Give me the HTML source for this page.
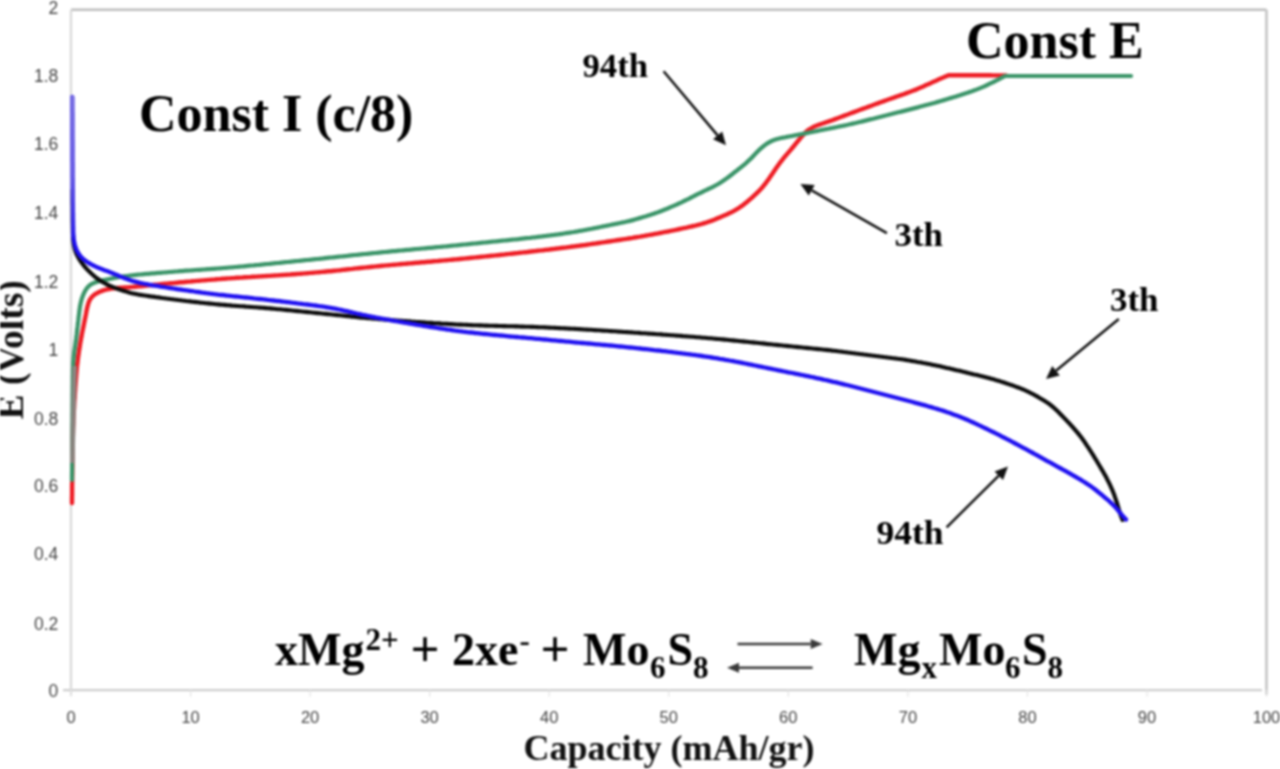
<!DOCTYPE html>
<html><head><meta charset="utf-8"><title>Chart</title>
<style>
html,body{margin:0;padding:0;background:#fff;}
body{width:1280px;height:769px;overflow:hidden;}
svg{display:block;filter:blur(1px);}
.tk{font-family:"Liberation Sans",sans-serif;font-size:16.5px;fill:#444;font-weight:normal;}
.tky{font-family:"Liberation Sans",sans-serif;font-size:17.5px;fill:#444;font-weight:normal;}
.big{font-family:"Liberation Serif",serif;font-weight:bold;font-size:52px;fill:#000;}
.lab{font-family:"Liberation Serif",serif;font-weight:bold;font-size:33.5px;fill:#000;}
.eq{font-family:"Liberation Serif",serif;font-weight:bold;font-size:46px;fill:#000;}
.sup{font-family:"Liberation Serif",serif;font-weight:bold;font-size:31px;fill:#000;}
.ax{font-family:"Liberation Serif",serif;font-weight:bold;font-size:36px;fill:#111;}
</style></head>
<body><svg width="1280" height="769" viewBox="0 0 1280 769">
<line x1="71.0" y1="9.7" x2="1266.5" y2="9.7" stroke="#bdbdbd" stroke-width="2.6"/>
<line x1="1266.5" y1="9.7" x2="1266.5" y2="694.7" stroke="#c4c4c4" stroke-width="2.6"/>
<line x1="63.0" y1="690.2" x2="1262.0" y2="690.2" stroke="#cdcdcd" stroke-width="2.2"/>
<line x1="71.0" y1="9.7" x2="71.0" y2="695.7" stroke="#d8d8d8" stroke-width="2.2"/>
<text x="58.3" y="697.1" text-anchor="end" class="tky">0</text>
<text x="58.3" y="629.6" text-anchor="end" class="tky">0.2</text>
<text x="58.3" y="560.1" text-anchor="end" class="tky">0.4</text>
<text x="58.3" y="492.4" text-anchor="end" class="tky">0.6</text>
<text x="58.3" y="424.9" text-anchor="end" class="tky">0.8</text>
<text x="58.3" y="356.1" text-anchor="end" class="tky">1</text>
<text x="58.3" y="288.0" text-anchor="end" class="tky">1.2</text>
<text x="58.3" y="218.9" text-anchor="end" class="tky">1.4</text>
<text x="58.3" y="150.1" text-anchor="end" class="tky">1.6</text>
<text x="58.3" y="82.1" text-anchor="end" class="tky">1.8</text>
<text x="58.3" y="14.1" text-anchor="end" class="tky">2</text>
<line x1="71.0" y1="689.7" x2="71.0" y2="696.7" stroke="#e4e4e4" stroke-width="1.2"/>
<text x="71.0" y="722.8" text-anchor="middle" class="tk">0</text>
<line x1="190.6" y1="689.7" x2="190.6" y2="696.7" stroke="#e4e4e4" stroke-width="1.2"/>
<text x="190.6" y="722.8" text-anchor="middle" class="tk">10</text>
<line x1="310.1" y1="689.7" x2="310.1" y2="696.7" stroke="#e4e4e4" stroke-width="1.2"/>
<text x="310.1" y="722.8" text-anchor="middle" class="tk">20</text>
<line x1="429.6" y1="689.7" x2="429.6" y2="696.7" stroke="#e4e4e4" stroke-width="1.2"/>
<text x="429.6" y="722.8" text-anchor="middle" class="tk">30</text>
<line x1="549.2" y1="689.7" x2="549.2" y2="696.7" stroke="#e4e4e4" stroke-width="1.2"/>
<text x="549.2" y="722.8" text-anchor="middle" class="tk">40</text>
<line x1="668.8" y1="689.7" x2="668.8" y2="696.7" stroke="#e4e4e4" stroke-width="1.2"/>
<text x="668.8" y="722.8" text-anchor="middle" class="tk">50</text>
<line x1="788.3" y1="689.7" x2="788.3" y2="696.7" stroke="#e4e4e4" stroke-width="1.2"/>
<text x="788.3" y="722.8" text-anchor="middle" class="tk">60</text>
<line x1="907.9" y1="689.7" x2="907.9" y2="696.7" stroke="#e4e4e4" stroke-width="1.2"/>
<text x="907.9" y="722.8" text-anchor="middle" class="tk">70</text>
<line x1="1027.4" y1="689.7" x2="1027.4" y2="696.7" stroke="#e4e4e4" stroke-width="1.2"/>
<text x="1027.4" y="722.8" text-anchor="middle" class="tk">80</text>
<line x1="1147.0" y1="689.7" x2="1147.0" y2="696.7" stroke="#e4e4e4" stroke-width="1.2"/>
<text x="1147.0" y="722.8" text-anchor="middle" class="tk">90</text>
<line x1="1266.5" y1="689.7" x2="1266.5" y2="696.7" stroke="#e4e4e4" stroke-width="1.2"/>
<text x="1266.5" y="722.8" text-anchor="middle" class="tk">100</text>
<path d="M72.0,503.0 L72.0,501.0 L72.0,499.0 L72.0,497.0 L72.1,495.0 L72.1,493.0 L72.1,491.0 L72.1,489.0 L72.1,487.0 L72.1,485.0 L72.2,483.0 L72.2,481.0 L72.2,479.0 L72.2,477.0 L72.3,475.0 L72.3,473.0 L72.3,471.0 L72.3,469.0 L72.4,467.0 L72.4,465.0 L72.4,463.0 L72.4,461.0 L72.5,459.0 L72.5,457.0 L72.5,455.0 L72.6,453.0 L72.6,451.0 L72.6,449.0 L72.6,447.0 L72.7,445.0 L72.7,443.0 L72.8,441.0 L72.8,439.0 L72.8,437.0 L72.9,435.0 L72.9,433.0 L73.0,431.0 L73.0,429.0 L73.1,427.0 L73.2,425.0 L73.3,423.0 L73.3,421.0 L73.4,419.0 L73.5,417.0 L73.6,415.0 L73.7,413.0 L73.8,411.0 L74.0,409.0 L74.1,407.0 L74.2,405.0 L74.3,403.0 L74.4,401.0 L74.6,399.0 L74.7,397.1 L74.8,395.1 L74.9,393.1 L75.1,391.1 L75.2,389.1 L75.3,387.1 L75.5,385.1 L75.6,383.1 L75.8,381.1 L75.9,379.1 L76.1,377.1 L76.2,375.1 L76.4,373.1 L76.6,371.1 L76.7,369.1 L76.9,367.1 L77.1,365.1 L77.4,363.2 L77.6,361.2 L77.8,359.2 L78.1,357.2 L78.4,355.2 L78.7,353.2 L78.9,351.3 L79.3,349.3 L79.6,347.3 L79.9,345.3 L80.2,343.4 L80.6,341.4 L80.9,339.4 L81.3,337.5 L81.7,335.5 L82.0,333.5 L82.4,331.6 L82.8,329.6 L83.2,327.7 L83.6,325.7 L84.0,323.7 L84.4,321.8 L84.8,319.8 L85.2,317.9 L85.6,315.9 L86.0,313.9 L86.3,312.0 L86.7,310.0 L87.1,308.0 L87.6,306.1 L88.1,304.2 L88.7,302.3 L89.5,300.5 L90.4,298.8 L91.6,297.3 L92.9,295.9 L94.4,294.7 L96.1,293.6 L97.8,292.7 L99.6,291.8 L101.5,291.1 L103.3,290.4 L105.2,289.9 L107.2,289.4 L109.1,289.0 L111.1,288.6 L113.1,288.4 L115.1,288.2 L117.0,288.0 L119.0,287.9 L121.0,287.8 L123.0,287.7 L125.0,287.5 L127.0,287.4 L129.0,287.3 L131.0,287.1 L133.0,286.9 L135.0,286.7 L137.0,286.5 L139.0,286.4 L141.0,286.2 L143.0,286.0 L145.0,285.8 L146.9,285.6 L148.9,285.4 L150.9,285.2 L152.9,285.0 L154.9,284.8 L156.9,284.6 L158.9,284.4 L160.9,284.2 L162.9,284.0 L164.9,283.8 L166.8,283.6 L168.8,283.4 L170.8,283.2 L172.8,283.1 L174.8,282.9 L176.8,282.7 L178.8,282.5 L180.8,282.3 L182.8,282.2 L184.8,282.0 L186.8,281.8 L188.8,281.6 L190.7,281.5 L192.7,281.3 L194.7,281.1 L196.7,280.9 L198.7,280.8 L200.7,280.6 L202.7,280.4 L204.7,280.3 L206.7,280.1 L208.7,279.9 L210.7,279.8 L212.7,279.6 L214.7,279.5 L216.7,279.3 L218.7,279.1 L220.6,279.0 L222.6,278.8 L224.6,278.7 L226.6,278.5 L228.6,278.4 L230.6,278.3 L232.6,278.1 L234.6,278.0 L236.6,277.8 L238.6,277.7 L240.6,277.6 L242.6,277.5 L244.6,277.3 L246.6,277.2 L248.6,277.1 L250.6,277.0 L252.6,276.8 L254.6,276.7 L256.6,276.6 L258.6,276.5 L260.6,276.4 L262.6,276.2 L264.6,276.1 L266.5,276.0 L268.5,275.9 L270.5,275.8 L272.5,275.6 L274.5,275.5 L276.5,275.4 L278.5,275.3 L280.5,275.1 L282.5,275.0 L284.5,274.9 L286.5,274.7 L288.5,274.6 L290.5,274.5 L292.5,274.3 L294.5,274.2 L296.5,274.0 L298.5,273.9 L300.5,273.7 L302.5,273.6 L304.5,273.4 L306.5,273.3 L308.4,273.1 L310.4,272.9 L312.4,272.8 L314.4,272.6 L316.4,272.4 L318.4,272.3 L320.4,272.1 L322.4,271.9 L324.4,271.7 L326.4,271.5 L328.4,271.3 L330.4,271.2 L332.4,271.0 L334.3,270.8 L336.3,270.6 L338.3,270.4 L340.3,270.2 L342.3,269.9 L344.3,269.7 L346.3,269.5 L348.3,269.3 L350.3,269.1 L352.2,268.9 L354.2,268.6 L356.2,268.4 L358.2,268.2 L360.2,268.0 L362.2,267.8 L364.2,267.6 L366.2,267.4 L368.2,267.2 L370.1,267.0 L372.1,266.8 L374.1,266.6 L376.1,266.4 L378.1,266.2 L380.1,266.0 L382.1,265.8 L384.1,265.6 L386.1,265.4 L388.1,265.3 L390.1,265.1 L392.0,264.9 L394.0,264.7 L396.0,264.6 L398.0,264.4 L400.0,264.2 L402.0,264.0 L404.0,263.9 L406.0,263.7 L408.0,263.5 L410.0,263.4 L412.0,263.2 L414.0,263.0 L416.0,262.8 L417.9,262.7 L419.9,262.5 L421.9,262.3 L423.9,262.2 L425.9,262.0 L427.9,261.8 L429.9,261.7 L431.9,261.5 L433.9,261.3 L435.9,261.1 L437.9,261.0 L439.9,260.8 L441.9,260.6 L443.9,260.4 L445.8,260.3 L447.8,260.1 L449.8,259.9 L451.8,259.7 L453.8,259.5 L455.8,259.4 L457.8,259.2 L459.8,259.0 L461.8,258.8 L463.8,258.6 L465.8,258.4 L467.7,258.2 L469.7,258.0 L471.7,257.8 L473.7,257.6 L475.7,257.4 L477.7,257.2 L479.7,257.0 L481.7,256.8 L483.7,256.6 L485.7,256.4 L487.6,256.2 L489.6,256.0 L491.6,255.8 L493.6,255.6 L495.6,255.4 L497.6,255.2 L499.6,255.0 L501.6,254.8 L503.6,254.6 L505.5,254.3 L507.5,254.1 L509.5,253.9 L511.5,253.7 L513.5,253.5 L515.5,253.3 L517.5,253.1 L519.5,252.8 L521.5,252.6 L523.4,252.4 L525.4,252.2 L527.4,252.0 L529.4,251.7 L531.4,251.5 L533.4,251.3 L535.4,251.1 L537.4,250.8 L539.3,250.6 L541.3,250.4 L543.3,250.2 L545.3,249.9 L547.3,249.7 L549.3,249.5 L551.3,249.2 L553.3,249.0 L555.2,248.8 L557.2,248.5 L559.2,248.3 L561.2,248.0 L563.2,247.8 L565.2,247.6 L567.1,247.3 L569.1,247.1 L571.1,246.8 L573.1,246.5 L575.1,246.3 L577.1,246.0 L579.0,245.8 L581.0,245.5 L583.0,245.2 L585.0,245.0 L587.0,244.7 L589.0,244.4 L590.9,244.1 L592.9,243.8 L594.9,243.6 L596.9,243.3 L598.9,243.0 L600.8,242.7 L602.8,242.4 L604.8,242.1 L606.8,241.8 L608.7,241.5 L610.7,241.2 L612.7,240.9 L614.7,240.6 L616.7,240.3 L618.6,240.0 L620.6,239.7 L622.6,239.4 L624.6,239.1 L626.5,238.8 L628.5,238.5 L630.5,238.2 L632.5,237.9 L634.4,237.5 L636.4,237.2 L638.4,236.9 L640.4,236.6 L642.3,236.2 L644.3,235.9 L646.3,235.5 L648.2,235.2 L650.2,234.8 L652.2,234.5 L654.1,234.1 L656.1,233.7 L658.1,233.4 L660.0,233.0 L662.0,232.6 L664.0,232.2 L665.9,231.8 L667.9,231.5 L669.8,231.1 L671.8,230.7 L673.8,230.3 L675.7,229.9 L677.7,229.5 L679.6,229.0 L681.6,228.6 L683.6,228.2 L685.5,227.8 L687.5,227.4 L689.4,226.9 L691.4,226.5 L693.3,226.0 L695.3,225.6 L697.2,225.1 L699.1,224.6 L701.1,224.1 L703.0,223.5 L704.9,223.0 L706.8,222.4 L708.7,221.7 L710.6,221.1 L712.5,220.4 L714.3,219.7 L716.2,218.9 L718.0,218.1 L719.9,217.4 L721.7,216.6 L723.6,215.8 L725.4,215.0 L727.2,214.2 L729.0,213.3 L730.8,212.5 L732.6,211.6 L734.4,210.6 L736.1,209.6 L737.8,208.6 L739.5,207.5 L741.1,206.4 L742.8,205.2 L744.3,204.0 L745.9,202.8 L747.5,201.5 L749.0,200.2 L750.5,198.9 L752.0,197.6 L753.5,196.2 L754.9,194.8 L756.4,193.5 L757.8,192.1 L759.2,190.7 L760.6,189.2 L762.0,187.8 L763.3,186.2 L764.5,184.7 L765.7,183.1 L766.9,181.5 L768.1,179.9 L769.3,178.2 L770.4,176.6 L771.5,175.0 L772.7,173.3 L773.8,171.6 L774.9,170.0 L776.0,168.3 L777.1,166.7 L778.3,165.1 L779.5,163.4 L780.7,161.8 L781.9,160.3 L783.2,158.7 L784.4,157.2 L785.7,155.6 L787.0,154.1 L788.3,152.6 L789.6,151.1 L790.9,149.6 L792.2,148.0 L793.5,146.5 L794.8,144.9 L796.0,143.4 L797.3,141.8 L798.6,140.3 L799.8,138.8 L801.1,137.2 L802.4,135.7 L803.8,134.2 L805.1,132.8 L806.6,131.5 L808.1,130.2 L809.8,129.1 L811.5,128.1 L813.2,127.1 L815.0,126.3 L816.9,125.5 L818.7,124.8 L820.6,124.2 L822.5,123.5 L824.4,122.9 L826.3,122.2 L828.2,121.6 L830.1,120.9 L832.0,120.3 L833.9,119.6 L835.7,118.9 L837.6,118.2 L839.5,117.5 L841.4,116.8 L843.2,116.1 L845.1,115.4 L847.0,114.7 L848.9,114.0 L850.7,113.3 L852.6,112.6 L854.5,111.9 L856.4,111.2 L858.2,110.5 L860.1,109.8 L862.0,109.1 L863.9,108.4 L865.7,107.8 L867.6,107.1 L869.5,106.4 L871.4,105.7 L873.2,105.0 L875.1,104.3 L877.0,103.6 L878.9,102.9 L880.7,102.2 L882.6,101.6 L884.5,100.9 L886.4,100.2 L888.3,99.5 L890.2,98.9 L892.1,98.2 L893.9,97.6 L895.8,96.9 L897.7,96.2 L899.6,95.6 L901.5,94.9 L903.4,94.3 L905.3,93.6 L907.1,92.9 L909.0,92.2 L910.9,91.5 L912.8,90.8 L914.6,90.1 L916.5,89.4 L918.3,88.6 L920.2,87.8 L922.0,87.0 L923.8,86.2 L925.6,85.3 L927.5,84.5 L929.3,83.7 L931.1,82.9 L932.9,82.0 L934.8,81.2 L936.6,80.4 L938.4,79.6 L940.2,78.8 L942.0,78.0 L943.8,77.3 L945.5,76.5 L947.0,75.9 L948.5,75.2 L948.5,75.2 L950.5,75.2 L952.5,75.2 L954.5,75.2 L956.5,75.2 L958.5,75.2 L960.5,75.2 L962.5,75.2 L964.5,75.3 L966.5,75.3 L968.5,75.3 L970.5,75.3 L972.5,75.3 L974.5,75.3 L976.5,75.3 L978.5,75.3 L980.5,75.3 L982.5,75.3 L984.5,75.3 L986.5,75.3 L988.5,75.3 L990.5,75.3 L992.5,75.4 L994.5,75.4 L996.5,75.4 L998.5,75.4 L1000.4,75.4 L1002.3,75.4 L1004.2,75.4 L1006.0,75.4 L1006.0,75.4" fill="none" stroke="#ee1c24" stroke-width="4.4" stroke-linejoin="round" stroke-linecap="round"/>
<path d="M72.0,480.0 L72.0,478.0 L72.0,476.0 L72.0,474.0 L72.1,472.0 L72.1,470.0 L72.1,468.0 L72.1,466.0 L72.1,464.0 L72.1,462.0 L72.1,460.0 L72.2,458.0 L72.2,456.0 L72.2,454.0 L72.2,452.0 L72.2,450.0 L72.2,448.0 L72.2,446.0 L72.3,444.0 L72.3,442.0 L72.3,440.0 L72.3,438.0 L72.3,436.0 L72.4,434.0 L72.4,432.0 L72.4,430.0 L72.4,428.0 L72.4,426.0 L72.4,424.0 L72.5,422.0 L72.5,420.0 L72.5,418.0 L72.5,416.0 L72.5,414.0 L72.6,412.0 L72.6,410.0 L72.6,408.0 L72.6,406.0 L72.6,404.0 L72.7,402.0 L72.7,400.0 L72.7,398.0 L72.7,396.0 L72.7,394.0 L72.8,392.0 L72.8,390.0 L72.8,388.0 L72.8,386.0 L72.9,384.0 L72.9,382.0 L72.9,380.0 L72.9,378.0 L72.9,376.0 L73.0,374.0 L73.0,372.0 L73.0,370.0 L73.1,368.0 L73.2,366.0 L73.2,364.0 L73.3,362.0 L73.5,360.0 L73.6,358.0 L73.8,356.0 L74.0,354.0 L74.3,352.1 L74.5,350.1 L74.8,348.1 L75.1,346.1 L75.4,344.1 L75.7,342.2 L75.9,340.2 L76.2,338.2 L76.4,336.2 L76.7,334.2 L76.9,332.2 L77.1,330.3 L77.3,328.3 L77.6,326.3 L77.8,324.3 L78.0,322.3 L78.3,320.3 L78.5,318.3 L78.7,316.3 L79.0,314.4 L79.2,312.4 L79.5,310.4 L79.7,308.4 L80.0,306.4 L80.4,304.5 L80.8,302.5 L81.3,300.6 L81.8,298.7 L82.5,296.8 L83.2,294.9 L84.0,293.1 L84.9,291.3 L85.9,289.6 L87.0,288.0 L88.3,286.6 L89.7,285.3 L91.3,284.2 L93.1,283.3 L94.9,282.5 L96.7,281.9 L98.7,281.3 L100.6,280.9 L102.6,280.4 L104.5,280.0 L106.5,279.6 L108.4,279.2 L110.4,278.8 L112.3,278.4 L114.3,278.0 L116.3,277.6 L118.2,277.3 L120.2,276.9 L122.2,276.6 L124.2,276.3 L126.1,276.0 L128.1,275.8 L130.1,275.5 L132.1,275.3 L134.1,275.1 L136.1,274.9 L138.1,274.7 L140.0,274.5 L142.0,274.3 L144.0,274.1 L146.0,273.9 L148.0,273.8 L150.0,273.6 L152.0,273.4 L154.0,273.3 L156.0,273.1 L158.0,272.9 L160.0,272.8 L162.0,272.6 L164.0,272.5 L166.0,272.3 L167.9,272.2 L169.9,272.0 L171.9,271.8 L173.9,271.7 L175.9,271.5 L177.9,271.4 L179.9,271.2 L181.9,271.1 L183.9,270.9 L185.9,270.7 L187.9,270.6 L189.9,270.5 L191.9,270.3 L193.9,270.2 L195.9,270.0 L197.9,269.9 L199.9,269.8 L201.9,269.6 L203.8,269.5 L205.8,269.3 L207.8,269.2 L209.8,269.1 L211.8,268.9 L213.8,268.8 L215.8,268.6 L217.8,268.5 L219.8,268.3 L221.8,268.2 L223.8,268.0 L225.8,267.8 L227.8,267.7 L229.8,267.5 L231.8,267.3 L233.8,267.2 L235.8,267.0 L237.7,266.8 L239.7,266.6 L241.7,266.5 L243.7,266.3 L245.7,266.1 L247.7,265.9 L249.7,265.7 L251.7,265.5 L253.7,265.4 L255.7,265.2 L257.7,265.0 L259.6,264.8 L261.6,264.6 L263.6,264.4 L265.6,264.2 L267.6,264.0 L269.6,263.8 L271.6,263.6 L273.6,263.4 L275.6,263.2 L277.6,263.0 L279.6,262.8 L281.5,262.6 L283.5,262.4 L285.5,262.2 L287.5,262.0 L289.5,261.8 L291.5,261.6 L293.5,261.4 L295.5,261.2 L297.5,261.0 L299.5,260.8 L301.4,260.6 L303.4,260.4 L305.4,260.2 L307.4,260.0 L309.4,259.8 L311.4,259.6 L313.4,259.4 L315.4,259.2 L317.4,259.0 L319.3,258.8 L321.3,258.6 L323.3,258.4 L325.3,258.1 L327.3,257.9 L329.3,257.7 L331.3,257.5 L333.3,257.3 L335.3,257.1 L337.2,256.9 L339.2,256.7 L341.2,256.5 L343.2,256.3 L345.2,256.1 L347.2,255.9 L349.2,255.6 L351.2,255.4 L353.2,255.2 L355.2,255.0 L357.1,254.8 L359.1,254.6 L361.1,254.4 L363.1,254.2 L365.1,254.0 L367.1,253.8 L369.1,253.6 L371.1,253.4 L373.1,253.2 L375.0,253.0 L377.0,252.8 L379.0,252.6 L381.0,252.4 L383.0,252.2 L385.0,252.0 L387.0,251.8 L389.0,251.6 L391.0,251.4 L393.0,251.2 L395.0,251.1 L396.9,250.9 L398.9,250.7 L400.9,250.5 L402.9,250.3 L404.9,250.1 L406.9,249.9 L408.9,249.8 L410.9,249.6 L412.9,249.4 L414.9,249.2 L416.9,249.0 L418.9,248.8 L420.8,248.7 L422.8,248.5 L424.8,248.3 L426.8,248.1 L428.8,247.9 L430.8,247.8 L432.8,247.6 L434.8,247.4 L436.8,247.2 L438.8,247.0 L440.8,246.8 L442.8,246.6 L444.7,246.5 L446.7,246.3 L448.7,246.1 L450.7,245.9 L452.7,245.7 L454.7,245.5 L456.7,245.3 L458.7,245.1 L460.7,244.9 L462.7,244.7 L464.6,244.5 L466.6,244.3 L468.6,244.1 L470.6,243.9 L472.6,243.7 L474.6,243.5 L476.6,243.3 L478.6,243.1 L480.6,242.9 L482.6,242.7 L484.5,242.5 L486.5,242.3 L488.5,242.1 L490.5,241.9 L492.5,241.7 L494.5,241.5 L496.5,241.3 L498.5,241.1 L500.5,240.9 L502.5,240.7 L504.4,240.5 L506.4,240.3 L508.4,240.1 L510.4,239.9 L512.4,239.7 L514.4,239.5 L516.4,239.3 L518.4,239.1 L520.4,238.8 L522.3,238.6 L524.3,238.4 L526.3,238.2 L528.3,238.0 L530.3,237.8 L532.3,237.5 L534.3,237.3 L536.3,237.1 L538.2,236.8 L540.2,236.6 L542.2,236.4 L544.2,236.1 L546.2,235.9 L548.2,235.6 L550.2,235.4 L552.1,235.1 L554.1,234.9 L556.1,234.6 L558.1,234.4 L560.1,234.1 L562.1,233.8 L564.0,233.5 L566.0,233.2 L568.0,232.9 L570.0,232.6 L571.9,232.3 L573.9,232.0 L575.9,231.6 L577.9,231.3 L579.8,230.9 L581.8,230.6 L583.8,230.2 L585.7,229.9 L587.7,229.5 L589.7,229.1 L591.6,228.8 L593.6,228.4 L595.5,228.0 L597.5,227.6 L599.5,227.2 L601.4,226.8 L603.4,226.4 L605.4,226.0 L607.3,225.6 L609.3,225.2 L611.2,224.8 L613.2,224.4 L615.1,224.0 L617.1,223.6 L619.1,223.2 L621.0,222.8 L623.0,222.4 L624.9,222.0 L626.9,221.5 L628.8,221.1 L630.8,220.6 L632.7,220.1 L634.6,219.6 L636.6,219.0 L638.5,218.4 L640.4,217.9 L642.3,217.3 L644.2,216.7 L646.1,216.2 L648.1,215.6 L650.0,215.0 L651.9,214.3 L653.8,213.7 L655.6,213.0 L657.5,212.4 L659.4,211.7 L661.3,211.0 L663.1,210.3 L665.0,209.5 L666.9,208.8 L668.7,208.0 L670.5,207.2 L672.4,206.4 L674.2,205.6 L676.0,204.8 L677.8,204.0 L679.7,203.1 L681.5,202.3 L683.3,201.4 L685.1,200.5 L686.9,199.7 L688.7,198.8 L690.4,197.9 L692.2,197.0 L694.0,196.0 L695.8,195.1 L697.6,194.2 L699.4,193.3 L701.2,192.5 L703.0,191.6 L704.8,190.7 L706.6,189.9 L708.4,189.0 L710.2,188.2 L712.0,187.3 L713.8,186.4 L715.5,185.5 L717.3,184.5 L719.0,183.5 L720.7,182.4 L722.4,181.3 L724.0,180.2 L725.7,179.1 L727.3,177.9 L728.9,176.7 L730.5,175.5 L732.1,174.3 L733.6,173.0 L735.2,171.8 L736.8,170.6 L738.3,169.3 L739.9,168.1 L741.5,166.8 L743.0,165.6 L744.6,164.3 L746.1,163.0 L747.6,161.6 L749.0,160.3 L750.5,158.9 L751.9,157.5 L753.3,156.0 L754.6,154.6 L756.0,153.1 L757.4,151.7 L758.8,150.3 L760.3,148.9 L761.8,147.6 L763.3,146.3 L764.9,145.1 L766.5,143.9 L768.2,142.9 L769.9,141.9 L771.7,141.0 L773.5,140.2 L775.4,139.6 L777.3,139.0 L779.2,138.5 L781.2,138.0 L783.1,137.6 L785.1,137.3 L787.0,136.9 L789.0,136.5 L791.0,136.2 L792.9,135.8 L794.9,135.4 L796.9,135.0 L798.8,134.6 L800.8,134.2 L802.7,133.9 L804.7,133.5 L806.7,133.1 L808.6,132.7 L810.6,132.3 L812.6,131.9 L814.5,131.5 L816.5,131.1 L818.4,130.7 L820.4,130.3 L822.4,129.9 L824.3,129.5 L826.3,129.1 L828.2,128.8 L830.2,128.4 L832.2,128.0 L834.1,127.6 L836.1,127.2 L838.1,126.8 L840.0,126.4 L842.0,126.0 L843.9,125.6 L845.9,125.2 L847.8,124.8 L849.8,124.3 L851.7,123.9 L853.7,123.4 L855.6,123.0 L857.6,122.5 L859.5,122.0 L861.5,121.6 L863.4,121.1 L865.4,120.6 L867.3,120.1 L869.2,119.6 L871.2,119.1 L873.1,118.7 L875.1,118.2 L877.0,117.7 L878.9,117.2 L880.9,116.7 L882.8,116.2 L884.8,115.7 L886.7,115.3 L888.6,114.8 L890.6,114.3 L892.5,113.8 L894.5,113.3 L896.4,112.8 L898.3,112.3 L900.3,111.9 L902.2,111.4 L904.2,110.9 L906.1,110.4 L908.0,109.9 L910.0,109.4 L911.9,108.9 L913.8,108.4 L915.8,107.9 L917.7,107.4 L919.6,106.8 L921.6,106.3 L923.5,105.8 L925.4,105.3 L927.4,104.8 L929.3,104.3 L931.2,103.7 L933.2,103.2 L935.1,102.7 L937.0,102.1 L938.9,101.6 L940.8,101.0 L942.8,100.4 L944.7,99.9 L946.6,99.3 L948.5,98.7 L950.4,98.1 L952.3,97.6 L954.2,97.0 L956.2,96.4 L958.1,95.8 L960.0,95.2 L961.9,94.5 L963.8,93.9 L965.7,93.3 L967.6,92.7 L969.5,92.0 L971.4,91.4 L973.3,90.7 L975.1,90.1 L977.0,89.4 L978.9,88.6 L980.7,87.9 L982.6,87.1 L984.4,86.3 L986.2,85.5 L988.0,84.6 L989.8,83.7 L991.6,82.8 L993.4,82.0 L995.2,81.1 L997.0,80.2 L998.7,79.3 L1000.4,78.4 L1002.0,77.5 L1003.6,76.8 L1005.0,76.0 L1005.0,76.0 L1007.0,76.0 L1009.0,76.0 L1011.0,76.0 L1013.0,76.0 L1015.0,76.0 L1017.0,76.0 L1019.0,76.0 L1021.0,76.0 L1023.0,76.0 L1025.0,76.0 L1027.0,76.0 L1029.0,76.0 L1031.0,76.0 L1033.0,76.0 L1035.0,76.0 L1037.0,76.0 L1039.0,76.0 L1041.0,76.0 L1043.0,76.0 L1045.0,76.0 L1047.0,76.0 L1049.0,76.0 L1051.0,76.0 L1053.0,76.0 L1055.0,76.0 L1057.0,76.0 L1059.0,76.0 L1061.0,76.0 L1063.0,76.0 L1065.0,76.0 L1067.0,76.0 L1069.0,76.0 L1071.0,76.0 L1073.0,76.0 L1075.0,76.0 L1077.0,76.0 L1079.0,76.0 L1081.0,76.0 L1083.0,76.0 L1085.0,76.0 L1087.0,76.0 L1089.0,76.0 L1091.0,76.0 L1093.0,76.0 L1095.0,76.0 L1097.0,76.0 L1099.0,76.0 L1101.0,76.0 L1103.0,76.0 L1105.0,76.0 L1107.0,76.0 L1109.0,76.0 L1111.0,76.0 L1113.0,76.0 L1115.0,76.0 L1117.0,76.0 L1119.0,76.0 L1121.0,76.0 L1123.0,76.0 L1125.0,76.0 L1127.0,76.0 L1129.0,76.0 L1131.0,76.0 L1131.0,76.0" fill="none" stroke="#3a9468" stroke-width="4.2" stroke-linejoin="round" stroke-linecap="round"/>
<path d="M74.6,366 C74,395 73,430 72.3,463" fill="none" stroke="#8a8580" stroke-width="4.6" stroke-linecap="butt"/>
<path d="M72.6,190.0 L72.6,192.0 L72.6,194.0 L72.6,196.0 L72.6,198.0 L72.6,200.0 L72.6,202.0 L72.6,204.0 L72.7,206.0 L72.7,208.0 L72.7,210.0 L72.7,212.0 L72.7,214.0 L72.7,216.0 L72.7,218.0 L72.7,220.0 L72.7,222.0 L72.8,224.0 L72.8,226.0 L72.8,228.0 L72.9,230.0 L72.9,232.0 L73.0,234.0 L73.1,236.0 L73.2,238.0 L73.3,240.0 L73.5,242.0 L73.7,243.9 L74.1,245.9 L74.5,247.8 L75.0,249.8 L75.6,251.6 L76.3,253.5 L77.1,255.3 L78.1,257.0 L79.0,258.8 L80.1,260.5 L81.2,262.1 L82.4,263.7 L83.6,265.3 L84.9,266.8 L86.2,268.3 L87.6,269.8 L88.9,271.2 L90.4,272.6 L91.8,274.0 L93.3,275.3 L94.8,276.6 L96.4,277.8 L98.0,279.0 L99.6,280.2 L101.3,281.2 L103.0,282.3 L104.8,283.3 L106.5,284.2 L108.3,285.1 L110.1,285.9 L112.0,286.7 L113.8,287.4 L115.7,288.1 L117.6,288.8 L119.4,289.5 L121.3,290.1 L123.2,290.7 L125.2,291.3 L127.1,291.9 L129.0,292.5 L130.9,293.0 L132.9,293.4 L134.8,293.8 L136.8,294.2 L138.7,294.6 L140.7,294.9 L142.7,295.2 L144.7,295.5 L146.6,295.8 L148.6,296.1 L150.6,296.4 L152.6,296.6 L154.6,296.9 L156.5,297.2 L158.5,297.4 L160.5,297.7 L162.5,298.0 L164.5,298.2 L166.5,298.5 L168.4,298.7 L170.4,299.0 L172.4,299.2 L174.4,299.5 L176.4,299.7 L178.4,300.0 L180.4,300.2 L182.3,300.5 L184.3,300.7 L186.3,301.0 L188.3,301.2 L190.3,301.4 L192.3,301.7 L194.3,301.9 L196.2,302.1 L198.2,302.3 L200.2,302.6 L202.2,302.8 L204.2,303.0 L206.2,303.2 L208.2,303.4 L210.2,303.6 L212.1,303.8 L214.1,304.0 L216.1,304.2 L218.1,304.4 L220.1,304.6 L222.1,304.8 L224.1,304.9 L226.1,305.1 L228.1,305.3 L230.1,305.4 L232.1,305.6 L234.1,305.7 L236.1,305.9 L238.1,306.0 L240.0,306.2 L242.0,306.3 L244.0,306.4 L246.0,306.6 L248.0,306.7 L250.0,306.9 L252.0,307.0 L254.0,307.2 L256.0,307.3 L258.0,307.5 L260.0,307.6 L262.0,307.8 L264.0,307.9 L266.0,308.1 L268.0,308.3 L270.0,308.4 L272.0,308.6 L273.9,308.8 L275.9,309.0 L277.9,309.2 L279.9,309.3 L281.9,309.5 L283.9,309.7 L285.9,309.9 L287.9,310.1 L289.9,310.3 L291.9,310.5 L293.9,310.7 L295.8,310.9 L297.8,311.1 L299.8,311.3 L301.8,311.5 L303.8,311.7 L305.8,311.9 L307.8,312.1 L309.8,312.3 L311.8,312.5 L313.8,312.7 L315.7,312.9 L317.7,313.1 L319.7,313.3 L321.7,313.5 L323.7,313.7 L325.7,313.9 L327.7,314.1 L329.7,314.3 L331.7,314.5 L333.7,314.7 L335.6,314.9 L337.6,315.1 L339.6,315.3 L341.6,315.5 L343.6,315.7 L345.6,315.9 L347.6,316.1 L349.6,316.3 L351.6,316.6 L353.5,316.8 L355.5,317.0 L357.5,317.2 L359.5,317.4 L361.5,317.6 L363.5,317.8 L365.5,317.9 L367.5,318.1 L369.5,318.3 L371.5,318.5 L373.5,318.7 L375.5,318.8 L377.4,319.0 L379.4,319.1 L381.4,319.3 L383.4,319.5 L385.4,319.6 L387.4,319.8 L389.4,319.9 L391.4,320.1 L393.4,320.2 L395.4,320.4 L397.4,320.5 L399.4,320.7 L401.4,320.8 L403.4,321.0 L405.4,321.1 L407.4,321.3 L409.4,321.4 L411.3,321.6 L413.3,321.7 L415.3,321.9 L417.3,322.0 L419.3,322.1 L421.3,322.3 L423.3,322.4 L425.3,322.5 L427.3,322.7 L429.3,322.8 L431.3,322.9 L433.3,323.1 L435.3,323.2 L437.3,323.3 L439.3,323.4 L441.3,323.6 L443.3,323.7 L445.3,323.8 L447.3,323.9 L449.3,324.0 L451.3,324.1 L453.3,324.2 L455.3,324.4 L457.3,324.5 L459.3,324.6 L461.2,324.6 L463.2,324.7 L465.2,324.8 L467.2,324.9 L469.2,325.0 L471.2,325.1 L473.2,325.2 L475.2,325.2 L477.2,325.3 L479.2,325.4 L481.2,325.4 L483.2,325.5 L485.2,325.6 L487.2,325.6 L489.2,325.7 L491.2,325.7 L493.2,325.8 L495.2,325.9 L497.2,325.9 L499.2,326.0 L501.2,326.0 L503.2,326.1 L505.2,326.1 L507.2,326.2 L509.2,326.2 L511.2,326.3 L513.2,326.3 L515.2,326.4 L517.2,326.4 L519.2,326.5 L521.2,326.6 L523.2,326.6 L525.2,326.7 L527.2,326.7 L529.2,326.8 L531.2,326.9 L533.2,326.9 L535.2,327.0 L537.2,327.1 L539.2,327.2 L541.2,327.2 L543.2,327.3 L545.2,327.4 L547.2,327.5 L549.2,327.6 L551.2,327.7 L553.2,327.8 L555.2,327.9 L557.2,328.0 L559.2,328.1 L561.2,328.2 L563.2,328.3 L565.2,328.4 L567.2,328.5 L569.2,328.6 L571.2,328.7 L573.2,328.8 L575.2,328.9 L577.2,329.0 L579.2,329.1 L581.2,329.2 L583.2,329.4 L585.1,329.5 L587.1,329.6 L589.1,329.7 L591.1,329.8 L593.1,330.0 L595.1,330.1 L597.1,330.2 L599.1,330.3 L601.1,330.5 L603.1,330.6 L605.1,330.7 L607.1,330.8 L609.1,331.0 L611.1,331.1 L613.1,331.2 L615.1,331.3 L617.1,331.5 L619.1,331.6 L621.1,331.7 L623.1,331.9 L625.1,332.0 L627.1,332.1 L629.1,332.3 L631.1,332.4 L633.1,332.5 L635.0,332.7 L637.0,332.8 L639.0,332.9 L641.0,333.1 L643.0,333.2 L645.0,333.3 L647.0,333.5 L649.0,333.6 L651.0,333.8 L653.0,333.9 L655.0,334.0 L657.0,334.2 L659.0,334.3 L661.0,334.4 L663.0,334.6 L665.0,334.7 L667.0,334.9 L669.0,335.0 L671.0,335.2 L673.0,335.3 L674.9,335.5 L676.9,335.6 L678.9,335.8 L680.9,335.9 L682.9,336.1 L684.9,336.2 L686.9,336.4 L688.9,336.5 L690.9,336.7 L692.9,336.8 L694.9,337.0 L696.9,337.2 L698.9,337.3 L700.9,337.5 L702.9,337.7 L704.9,337.8 L706.8,338.0 L708.8,338.2 L710.8,338.3 L712.8,338.5 L714.8,338.7 L716.8,338.9 L718.8,339.0 L720.8,339.2 L722.8,339.4 L724.8,339.6 L726.8,339.8 L728.8,340.0 L730.7,340.2 L732.7,340.4 L734.7,340.6 L736.7,340.8 L738.7,341.0 L740.7,341.2 L742.7,341.4 L744.7,341.6 L746.7,341.8 L748.7,342.0 L750.6,342.2 L752.6,342.4 L754.6,342.6 L756.6,342.8 L758.6,343.0 L760.6,343.2 L762.6,343.4 L764.6,343.6 L766.6,343.9 L768.5,344.1 L770.5,344.3 L772.5,344.5 L774.5,344.7 L776.5,344.9 L778.5,345.1 L780.5,345.3 L782.5,345.5 L784.5,345.7 L786.5,345.9 L788.4,346.1 L790.4,346.3 L792.4,346.5 L794.4,346.7 L796.4,346.9 L798.4,347.1 L800.4,347.3 L802.4,347.5 L804.4,347.7 L806.4,347.9 L808.3,348.1 L810.3,348.3 L812.3,348.5 L814.3,348.7 L816.3,348.9 L818.3,349.1 L820.3,349.3 L822.3,349.5 L824.3,349.7 L826.3,349.9 L828.2,350.1 L830.2,350.3 L832.2,350.6 L834.2,350.8 L836.2,351.0 L838.2,351.3 L840.2,351.5 L842.1,351.7 L844.1,352.0 L846.1,352.2 L848.1,352.5 L850.1,352.7 L852.1,353.0 L854.1,353.2 L856.0,353.5 L858.0,353.7 L860.0,354.0 L862.0,354.2 L864.0,354.5 L866.0,354.7 L867.9,355.0 L869.9,355.2 L871.9,355.5 L873.9,355.7 L875.9,356.0 L877.9,356.2 L879.9,356.5 L881.8,356.7 L883.8,357.0 L885.8,357.2 L887.8,357.5 L889.8,357.7 L891.8,358.0 L893.7,358.2 L895.7,358.5 L897.7,358.8 L899.7,359.0 L901.7,359.3 L903.6,359.6 L905.6,359.9 L907.6,360.2 L909.6,360.5 L911.5,360.9 L913.5,361.2 L915.5,361.5 L917.5,361.9 L919.4,362.2 L921.4,362.6 L923.4,363.0 L925.3,363.3 L927.3,363.7 L929.3,364.1 L931.2,364.5 L933.2,364.9 L935.1,365.3 L937.1,365.7 L939.0,366.1 L941.0,366.5 L942.9,367.0 L944.9,367.4 L946.8,367.9 L948.8,368.3 L950.7,368.8 L952.7,369.2 L954.6,369.7 L956.6,370.2 L958.5,370.6 L960.5,371.1 L962.4,371.6 L964.4,372.0 L966.3,372.5 L968.3,373.0 L970.2,373.4 L972.1,373.9 L974.1,374.4 L976.0,374.8 L978.0,375.3 L979.9,375.8 L981.9,376.2 L983.8,376.7 L985.7,377.2 L987.7,377.7 L989.6,378.2 L991.5,378.8 L993.5,379.3 L995.4,379.9 L997.3,380.4 L999.2,381.0 L1001.1,381.6 L1003.0,382.2 L1004.9,382.8 L1006.8,383.5 L1008.7,384.1 L1010.6,384.8 L1012.5,385.4 L1014.4,386.1 L1016.3,386.8 L1018.1,387.5 L1020.0,388.2 L1021.8,389.0 L1023.7,389.7 L1025.5,390.5 L1027.3,391.4 L1029.2,392.2 L1030.9,393.1 L1032.7,394.0 L1034.5,394.9 L1036.2,395.9 L1038.0,396.9 L1039.7,397.9 L1041.4,398.9 L1043.1,399.9 L1044.8,401.0 L1046.5,402.1 L1048.2,403.2 L1049.8,404.4 L1051.3,405.6 L1052.9,406.9 L1054.4,408.2 L1055.8,409.5 L1057.3,410.9 L1058.7,412.3 L1060.1,413.8 L1061.5,415.2 L1062.9,416.6 L1064.3,418.1 L1065.7,419.5 L1067.0,421.0 L1068.4,422.4 L1069.8,423.9 L1071.1,425.4 L1072.5,426.8 L1073.8,428.3 L1075.1,429.8 L1076.4,431.4 L1077.7,432.9 L1078.9,434.4 L1080.2,436.0 L1081.4,437.6 L1082.6,439.2 L1083.8,440.8 L1084.9,442.5 L1086.0,444.1 L1087.1,445.8 L1088.2,447.4 L1089.3,449.1 L1090.4,450.8 L1091.5,452.5 L1092.5,454.2 L1093.6,455.9 L1094.6,457.6 L1095.7,459.3 L1096.7,461.0 L1097.7,462.7 L1098.8,464.5 L1099.8,466.2 L1100.8,467.9 L1101.8,469.6 L1102.8,471.3 L1103.8,473.1 L1104.8,474.8 L1105.8,476.6 L1106.7,478.3 L1107.6,480.1 L1108.5,481.9 L1109.4,483.7 L1110.3,485.5 L1111.1,487.3 L1111.9,489.1 L1112.7,491.0 L1113.4,492.8 L1114.2,494.7 L1114.8,496.6 L1115.5,498.5 L1116.1,500.4 L1116.8,502.3 L1117.3,504.2 L1117.9,506.1 L1118.5,508.0 L1119.0,509.9 L1119.6,511.8 L1120.2,513.7 L1120.8,515.5 L1121.5,517.3 L1122.2,519.1 L1122.5,520.0" fill="none" stroke="#0a0a0a" stroke-width="4.1" stroke-linejoin="round" stroke-linecap="round"/>
<path d="M72.3,97.0 L72.3,99.0 L72.3,101.0 L72.3,103.0 L72.3,105.0 L72.3,107.0 L72.3,109.0 L72.3,111.0 L72.4,113.0 L72.4,115.0 L72.4,117.0 L72.4,119.0 L72.4,121.0 L72.4,123.0 L72.4,125.0 L72.4,127.0 L72.4,129.0 L72.4,131.0 L72.4,133.0 L72.4,135.0 L72.4,137.0 L72.4,139.0 L72.5,141.0 L72.5,143.0 L72.5,145.0 L72.5,147.0 L72.5,149.0 L72.5,151.0 L72.5,153.0 L72.5,155.0 L72.5,157.0 L72.5,159.0 L72.5,161.0 L72.6,163.0 L72.6,165.0 L72.6,167.0 L72.6,169.0 L72.6,171.0 L72.6,173.0 L72.6,175.0 L72.6,177.0 L72.7,179.0 L72.7,181.0 L72.7,183.0 L72.7,185.0 L72.7,187.0 L72.7,189.0 L72.8,191.0 L72.8,193.0 L72.8,195.0 L72.8,197.0 L72.8,199.0 L72.8,201.0 L72.9,203.0 L72.9,205.0 L72.9,207.0 L72.9,209.0 L72.9,211.0 L73.0,213.0 L73.0,215.0 L73.0,217.0 L73.0,219.0 L73.1,221.0 L73.1,223.0 L73.1,225.0 L73.2,227.0 L73.2,229.0 L73.2,231.0 L73.3,233.0 L73.4,235.0 L73.5,237.0 L73.7,239.0 L74.0,240.9 L74.4,242.9 L74.8,244.8 L75.4,246.7 L76.0,248.6 L76.8,250.4 L77.7,252.1 L78.7,253.8 L79.8,255.4 L81.1,256.9 L82.5,258.3 L84.0,259.6 L85.5,260.8 L87.2,262.0 L88.8,263.0 L90.6,264.0 L92.3,265.0 L94.1,265.8 L95.9,266.7 L97.8,267.5 L99.6,268.2 L101.5,268.9 L103.3,269.7 L105.2,270.4 L107.1,271.1 L108.9,271.8 L110.8,272.6 L112.6,273.3 L114.5,274.1 L116.3,274.8 L118.2,275.6 L120.0,276.4 L121.9,277.1 L123.7,277.9 L125.6,278.6 L127.5,279.3 L129.4,279.9 L131.3,280.6 L133.2,281.2 L135.1,281.7 L137.0,282.2 L139.0,282.7 L140.9,283.1 L142.9,283.5 L144.8,283.9 L146.8,284.2 L148.8,284.6 L150.7,284.9 L152.7,285.3 L154.7,285.6 L156.7,285.9 L158.6,286.2 L160.6,286.6 L162.6,286.9 L164.6,287.2 L166.5,287.5 L168.5,287.8 L170.5,288.1 L172.5,288.4 L174.4,288.7 L176.4,289.0 L178.4,289.3 L180.4,289.5 L182.4,289.8 L184.3,290.1 L186.3,290.4 L188.3,290.7 L190.3,291.0 L192.3,291.2 L194.2,291.5 L196.2,291.8 L198.2,292.0 L200.2,292.3 L202.2,292.6 L204.2,292.8 L206.1,293.1 L208.1,293.3 L210.1,293.6 L212.1,293.8 L214.1,294.1 L216.1,294.3 L218.0,294.6 L220.0,294.8 L222.0,295.0 L224.0,295.2 L226.0,295.5 L228.0,295.7 L230.0,295.9 L232.0,296.1 L233.9,296.3 L235.9,296.5 L237.9,296.7 L239.9,296.9 L241.9,297.1 L243.9,297.3 L245.9,297.5 L247.9,297.7 L249.9,297.9 L251.9,298.1 L253.8,298.4 L255.8,298.6 L257.8,298.8 L259.8,299.0 L261.8,299.2 L263.8,299.4 L265.8,299.6 L267.8,299.9 L269.8,300.1 L271.7,300.3 L273.7,300.5 L275.7,300.8 L277.7,301.0 L279.7,301.2 L281.7,301.5 L283.7,301.7 L285.6,302.0 L287.6,302.2 L289.6,302.4 L291.6,302.7 L293.6,302.9 L295.6,303.1 L297.6,303.4 L299.5,303.6 L301.5,303.8 L303.5,304.1 L305.5,304.3 L307.5,304.5 L309.5,304.8 L311.5,305.0 L313.4,305.3 L315.4,305.5 L317.4,305.8 L319.4,306.1 L321.4,306.3 L323.3,306.6 L325.3,307.0 L327.3,307.3 L329.3,307.6 L331.2,308.0 L333.2,308.3 L335.2,308.7 L337.1,309.1 L339.1,309.5 L341.0,309.9 L343.0,310.4 L344.9,310.8 L346.9,311.2 L348.8,311.7 L350.8,312.1 L352.7,312.6 L354.7,313.0 L356.6,313.5 L358.6,313.9 L360.5,314.3 L362.5,314.8 L364.5,315.2 L366.4,315.6 L368.4,316.0 L370.3,316.4 L372.3,316.8 L374.3,317.2 L376.2,317.6 L378.2,317.9 L380.1,318.3 L382.1,318.7 L384.1,319.0 L386.1,319.4 L388.0,319.7 L390.0,320.1 L392.0,320.4 L393.9,320.8 L395.9,321.1 L397.9,321.5 L399.8,321.8 L401.8,322.2 L403.8,322.5 L405.7,322.9 L407.7,323.2 L409.7,323.5 L411.7,323.9 L413.6,324.2 L415.6,324.5 L417.6,324.9 L419.6,325.2 L421.5,325.5 L423.5,325.8 L425.5,326.2 L427.4,326.5 L429.4,326.8 L431.4,327.1 L433.4,327.4 L435.4,327.7 L437.3,328.0 L439.3,328.3 L441.3,328.6 L443.3,328.9 L445.2,329.2 L447.2,329.5 L449.2,329.7 L451.2,330.0 L453.2,330.3 L455.1,330.6 L457.1,330.8 L459.1,331.1 L461.1,331.3 L463.1,331.6 L465.1,331.8 L467.1,332.1 L469.0,332.3 L471.0,332.5 L473.0,332.7 L475.0,333.0 L477.0,333.2 L479.0,333.4 L481.0,333.6 L483.0,333.8 L484.9,334.0 L486.9,334.2 L488.9,334.4 L490.9,334.6 L492.9,334.8 L494.9,335.0 L496.9,335.2 L498.9,335.4 L500.9,335.5 L502.9,335.7 L504.9,335.9 L506.8,336.1 L508.8,336.3 L510.8,336.5 L512.8,336.6 L514.8,336.8 L516.8,337.0 L518.8,337.2 L520.8,337.3 L522.8,337.5 L524.8,337.7 L526.8,337.9 L528.8,338.1 L530.8,338.2 L532.7,338.4 L534.7,338.6 L536.7,338.8 L538.7,338.9 L540.7,339.1 L542.7,339.3 L544.7,339.5 L546.7,339.7 L548.7,339.9 L550.7,340.1 L552.7,340.3 L554.6,340.4 L556.6,340.6 L558.6,340.8 L560.6,341.0 L562.6,341.2 L564.6,341.4 L566.6,341.6 L568.6,341.7 L570.6,341.9 L572.6,342.1 L574.6,342.3 L576.6,342.5 L578.5,342.6 L580.5,342.8 L582.5,343.0 L584.5,343.2 L586.5,343.4 L588.5,343.5 L590.5,343.7 L592.5,343.9 L594.5,344.1 L596.5,344.3 L598.5,344.4 L600.5,344.6 L602.5,344.8 L604.4,345.0 L606.4,345.2 L608.4,345.4 L610.4,345.5 L612.4,345.7 L614.4,345.9 L616.4,346.1 L618.4,346.3 L620.4,346.5 L622.4,346.7 L624.4,346.9 L626.3,347.1 L628.3,347.3 L630.3,347.5 L632.3,347.7 L634.3,347.9 L636.3,348.1 L638.3,348.3 L640.3,348.5 L642.3,348.8 L644.2,349.0 L646.2,349.2 L648.2,349.4 L650.2,349.6 L652.2,349.8 L654.2,350.1 L656.2,350.3 L658.2,350.5 L660.1,350.7 L662.1,351.0 L664.1,351.2 L666.1,351.4 L668.1,351.7 L670.1,351.9 L672.1,352.1 L674.0,352.4 L676.0,352.6 L678.0,352.9 L680.0,353.1 L682.0,353.4 L684.0,353.6 L686.0,353.9 L687.9,354.1 L689.9,354.4 L691.9,354.7 L693.9,354.9 L695.9,355.2 L697.8,355.5 L699.8,355.7 L701.8,356.0 L703.8,356.3 L705.8,356.6 L707.7,356.9 L709.7,357.2 L711.7,357.5 L713.7,357.8 L715.7,358.1 L717.6,358.4 L719.6,358.8 L721.6,359.1 L723.5,359.4 L725.5,359.8 L727.5,360.1 L729.5,360.5 L731.4,360.8 L733.4,361.2 L735.4,361.6 L737.3,361.9 L739.3,362.3 L741.2,362.7 L743.2,363.1 L745.2,363.5 L747.1,363.9 L749.1,364.3 L751.1,364.7 L753.0,365.1 L755.0,365.5 L756.9,365.9 L758.9,366.3 L760.8,366.7 L762.8,367.1 L764.8,367.5 L766.7,367.9 L768.7,368.3 L770.6,368.7 L772.6,369.1 L774.6,369.5 L776.5,369.9 L778.5,370.3 L780.4,370.7 L782.4,371.1 L784.4,371.5 L786.3,371.9 L788.3,372.3 L790.2,372.6 L792.2,373.0 L794.2,373.4 L796.1,373.8 L798.1,374.2 L800.0,374.6 L802.0,375.0 L804.0,375.4 L805.9,375.8 L807.9,376.2 L809.8,376.6 L811.8,377.0 L813.8,377.4 L815.7,377.9 L817.7,378.3 L819.6,378.7 L821.6,379.1 L823.5,379.6 L825.5,380.0 L827.4,380.4 L829.4,380.9 L831.3,381.3 L833.3,381.8 L835.2,382.2 L837.2,382.7 L839.1,383.2 L841.1,383.6 L843.0,384.1 L845.0,384.6 L846.9,385.0 L848.8,385.5 L850.8,386.0 L852.7,386.5 L854.7,387.0 L856.6,387.5 L858.5,388.0 L860.5,388.5 L862.4,389.0 L864.3,389.5 L866.3,390.0 L868.2,390.5 L870.2,391.0 L872.1,391.5 L874.0,392.0 L876.0,392.5 L877.9,393.0 L879.8,393.5 L881.8,394.0 L883.7,394.5 L885.6,395.0 L887.6,395.5 L889.5,396.0 L891.5,396.5 L893.4,397.0 L895.3,397.5 L897.3,398.0 L899.2,398.5 L901.1,399.0 L903.1,399.5 L905.0,400.0 L906.9,400.5 L908.9,401.0 L910.8,401.5 L912.7,402.0 L914.7,402.6 L916.6,403.1 L918.5,403.6 L920.5,404.1 L922.4,404.7 L924.3,405.2 L926.2,405.7 L928.2,406.3 L930.1,406.8 L932.0,407.4 L933.9,408.0 L935.8,408.5 L937.8,409.1 L939.7,409.7 L941.6,410.3 L943.5,410.9 L945.4,411.5 L947.3,412.2 L949.2,412.8 L951.1,413.5 L952.9,414.2 L954.8,414.9 L956.7,415.6 L958.5,416.3 L960.4,417.0 L962.3,417.8 L964.1,418.5 L965.9,419.3 L967.8,420.1 L969.6,420.9 L971.4,421.7 L973.3,422.5 L975.1,423.4 L976.9,424.2 L978.7,425.1 L980.5,425.9 L982.3,426.8 L984.1,427.7 L985.9,428.5 L987.7,429.4 L989.5,430.3 L991.3,431.2 L993.1,432.0 L994.9,432.9 L996.7,433.8 L998.5,434.7 L1000.2,435.6 L1002.0,436.6 L1003.8,437.5 L1005.6,438.4 L1007.4,439.3 L1009.1,440.2 L1010.9,441.2 L1012.7,442.1 L1014.4,443.0 L1016.2,444.0 L1018.0,444.9 L1019.7,445.9 L1021.5,446.8 L1023.3,447.8 L1025.0,448.7 L1026.8,449.7 L1028.5,450.6 L1030.3,451.6 L1032.0,452.5 L1033.8,453.5 L1035.5,454.5 L1037.3,455.4 L1039.0,456.4 L1040.8,457.4 L1042.5,458.4 L1044.3,459.3 L1046.0,460.3 L1047.8,461.3 L1049.5,462.2 L1051.3,463.2 L1053.0,464.2 L1054.8,465.1 L1056.5,466.1 L1058.3,467.1 L1060.0,468.0 L1061.8,469.0 L1063.5,470.0 L1065.3,470.9 L1067.0,471.9 L1068.8,472.9 L1070.5,473.9 L1072.2,474.9 L1074.0,475.9 L1075.7,476.9 L1077.4,477.9 L1079.2,478.9 L1080.9,479.9 L1082.6,481.0 L1084.3,482.0 L1086.0,483.1 L1087.7,484.2 L1089.3,485.3 L1091.0,486.4 L1092.6,487.6 L1094.2,488.8 L1095.8,490.0 L1097.3,491.2 L1098.9,492.5 L1100.4,493.8 L1102.0,495.0 L1103.5,496.3 L1105.0,497.6 L1106.5,498.9 L1108.1,500.2 L1109.6,501.5 L1111.0,502.9 L1112.5,504.3 L1113.9,505.7 L1115.3,507.1 L1116.6,508.6 L1117.9,510.1 L1119.1,511.7 L1120.4,513.2 L1121.6,514.7 L1122.9,516.1 L1124.1,517.5 L1125.4,518.8 L1126.0,519.5" fill="none" stroke="#1e0ff0" stroke-width="4.3" stroke-linejoin="round" stroke-linecap="round"/>
<defs><linearGradient id="bg" gradientUnits="userSpaceOnUse" x1="0" y1="97" x2="0" y2="238"><stop offset="0" stop-color="#7a70e0"/><stop offset="0.55" stop-color="#6a5ee4"/><stop offset="1" stop-color="#2a1cec"/></linearGradient></defs>
<path d="M72.3,97 L72.6,170 L73.1,236" fill="none" stroke="url(#bg)" stroke-width="3.8" stroke-linecap="round"/>
<line x1="663.6" y1="71.2" x2="717.6" y2="135.4" stroke="#111" stroke-width="2.5"/><polygon points="726.0,145.3 713.0,139.2 722.2,131.5" fill="#111"/>
<line x1="886.9" y1="233.1" x2="811.7" y2="190.3" stroke="#111" stroke-width="2.5"/><polygon points="800.4,183.9 814.7,185.1 808.7,195.5" fill="#111"/>
<line x1="1118.8" y1="319.0" x2="1056.0" y2="370.7" stroke="#111" stroke-width="2.5"/><polygon points="1046.0,379.0 1052.2,366.1 1059.8,375.4" fill="#111"/>
<line x1="946.6" y1="527.3" x2="998.8" y2="475.6" stroke="#111" stroke-width="2.5"/><polygon points="1008.0,466.5 1003.0,479.9 994.5,471.4" fill="#111"/>
<line x1="737.5" y1="644.0" x2="810.7" y2="644.0" stroke="#3a3a3a" stroke-width="2.4"/><polygon points="822.7,644.0 810.7,649.0 810.7,639.0" fill="#3a3a3a"/>
<line x1="812.6" y1="667.8" x2="739.0" y2="667.8" stroke="#3a3a3a" stroke-width="2.4"/><polygon points="727.0,667.8 739.0,662.8 739.0,672.8" fill="#3a3a3a"/>
<text x="139" y="130.5" class="big">Const I (c/8)</text>
<text x="966" y="57.6" class="big">Const E</text>
<text x="582.5" y="76.7" class="lab" textLength="65.5" lengthAdjust="spacingAndGlyphs">94th</text>
<text x="894.5" y="245.8" class="lab" textLength="48.5" lengthAdjust="spacingAndGlyphs">3th</text>
<text x="1110" y="310.6" class="lab" textLength="48.5" lengthAdjust="spacingAndGlyphs">3th</text>
<text x="876.5" y="544.4" class="lab" textLength="67" lengthAdjust="spacingAndGlyphs">94th</text>
<text x="275" y="664.8" class="eq" >xMg</text>
<text x="365.5" y="649.5" class="sup" >2+</text>
<text x="410.5" y="666.3" class="eq" style="font-size:51px">+</text>
<text x="452" y="664.8" class="eq" >2xe</text>
<text x="519.5" y="650.5" class="sup" >-</text>
<text x="540.5" y="666.3" class="eq" style="font-size:51px">+</text>
<text x="583" y="664.8" class="eq" >Mo</text>
<text x="650" y="677.8" class="sup" >6</text>
<text x="667.5" y="664.8" class="eq" >S</text>
<text x="693" y="677.8" class="sup" >8</text>
<text x="854" y="664.6" class="eq" >Mg</text>
<text x="921.5" y="677.8" class="sup" >x</text>
<text x="939" y="664.6" class="eq" >Mo</text>
<text x="1005" y="677.8" class="sup" >6</text>
<text x="1022" y="664.6" class="eq" >S</text>
<text x="1047.5" y="677.8" class="sup" >8</text>
<text x="523.5" y="759.8" class="ax">Capacity (mAh/gr)</text>
<text transform="translate(23,419.5) rotate(-90)" x="0" y="0" class="ax" style="font-size:37.5px">E (Volts)</text>
</svg></body></html>
